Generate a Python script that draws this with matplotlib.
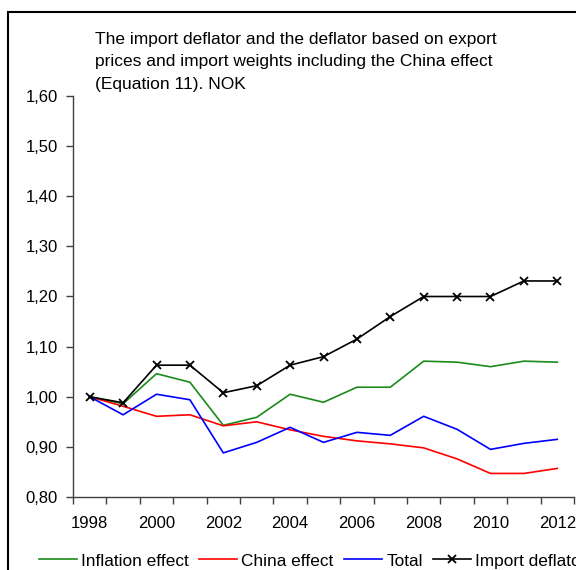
import matplotlib
matplotlib.use('Agg')
import matplotlib.pyplot as plt
from matplotlib.patches import Rectangle
from matplotlib.ticker import FuncFormatter, MultipleLocator

plt.rcParams['font.family'] = ['Liberation Sans', 'DejaVu Sans']

years = list(range(1998, 2013))
inflation = [1.000, 0.986, 1.046, 1.029, 0.943, 0.959, 1.005, 0.989, 1.019, 1.019, 1.071, 1.069, 1.060, 1.071, 1.069]
china = [1.000, 0.981, 0.961, 0.964, 0.942, 0.950, 0.934, 0.921, 0.912, 0.906, 0.898, 0.876, 0.847, 0.847, 0.857]
total = [1.000, 0.964, 1.005, 0.994, 0.888, 0.909, 0.939, 0.909, 0.929, 0.923, 0.961, 0.935, 0.895, 0.907, 0.915]
import_defl = [1.000, 0.988, 1.063, 1.063, 1.008, 1.022, 1.063, 1.080, 1.115, 1.160, 1.200, 1.200, 1.200, 1.231, 1.231]

W, H = 576, 570
fig = plt.figure(figsize=(W/100, H/100), dpi=100, facecolor='white')
ax = fig.add_axes([73/W, 1-497/H, 501/W, 401/H])

x = list(range(len(years)))
ax.plot(x, inflation, color='#1a8a1a', lw=1.2, label='Inflation effect')
ax.plot(x, china, color='#ff0000', lw=1.2, label='China effect')
ax.plot(x, total, color='#0000ff', lw=1.2, label='Total')
ax.plot(x, import_defl, color='black', lw=1.2, marker='x', ms=6, mew=1.3, label='Import deflator')

ax.set_xlim(-0.5, len(years)-0.5)
ax.set_ylim(0.80, 1.60)
ax.yaxis.set_major_locator(MultipleLocator(0.1))
ax.yaxis.set_major_formatter(FuncFormatter(lambda v, p: f"{v:.2f}".replace('.', ',')))
ax.set_xticks(x[::2])
ax.set_xticklabels([str(y) for y in years[::2]])
ax.set_xticks([i-0.5 for i in range(len(years)+1)], minor=True)
ax.tick_params(axis='x', which='major', length=0, pad=14, labelsize=12)
ax.tick_params(axis='x', which='minor', length=5, width=1, color='#404040')
ax.tick_params(axis='y', length=5, width=1, color='#404040', pad=6, labelsize=12)
for s in ['top', 'right']:
    ax.spines[s].set_visible(False)
for s in ['left', 'bottom']:
    ax.spines[s].set_color('#404040')
    ax.spines[s].set_linewidth(1)
ax.spines['bottom'].set_bounds(-0.5, len(years)-0.5)

fig.text(95/W, 1-32/H, 'The import deflator and the deflator based on export\n'
         'prices and import weights including the China effect\n(Equation 11). NOK',
         ha='left', va='top', fontsize=12.5, linespacing=1.62)

fig.legend(loc='center left', bbox_to_anchor=(39/W, 1-561/H), ncol=4, frameon=False,
           fontsize=12.4, handlelength=2.2, handletextpad=0.25, columnspacing=0.6,
           borderpad=0, borderaxespad=0)

fig.patches.append(Rectangle((8/W, -0.1), 1.2, 1.1-12.5/H, transform=fig.transFigure,
                             fill=False, edgecolor='black', lw=1.5))

plt.savefig('out.png', dpi=100, facecolor='white')
